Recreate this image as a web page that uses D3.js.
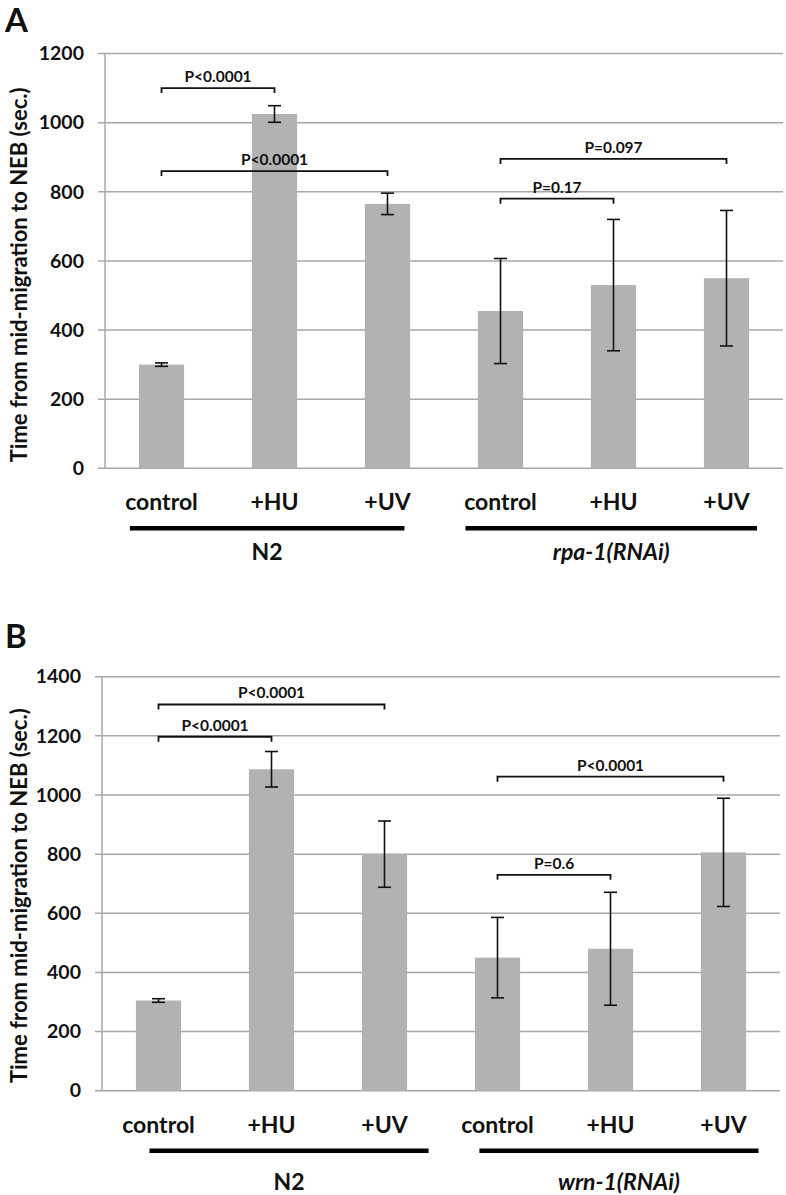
<!DOCTYPE html>
<html>
<head>
<meta charset="utf-8">
<script src="https://cdn.jsdelivr.net/npm/d3@7"></script>
<style>
  html, body { margin: 0; padding: 0; background: #fff; }
  svg { display: block; }
  text { font-family: Lato, "Open Sans", sans-serif; font-weight: bold; fill: #111; }
</style>
</head>
<body>
<svg id="chart" width="786" height="1195"></svg>
<script>
// ---------------- DATA ----------------
const categories = ["control", "+HU", "+UV", "control", "+HU", "+UV"];

const groupsA = ["N2", "rpa-1(RNAi)"];
const valuesA = [300, 1025, 765, 455, 530, 550];
const errorsA = [5, 24, 31, 152, 190, 196];
const ticksA = [0, 200, 400, 600, 800, 1000, 1200];
const bracketsA = [
  { from: 0, to: 1, y: 1100, label: "P<0.0001" },
  { from: 0, to: 2, y: 860, label: "P<0.0001" },
  { from: 3, to: 5, y: 895, label: "P=0.097" },
  { from: 3, to: 4, y: 780, label: "P=0.17" }
];

const groupsB = ["N2", "wrn-1(RNAi)"];
const valuesB = [305, 1087, 800, 450, 480, 806];
const errorsB = [6, 60, 112, 136, 191, 183];
const ticksB = [0, 200, 400, 600, 800, 1000, 1200, 1400];
const bracketsB = [
  { from: 0, to: 1, y: 1197, label: "P<0.0001" },
  { from: 0, to: 2, y: 1306, label: "P<0.0001" },
  { from: 3, to: 5, y: 1062, label: "P<0.0001" },
  { from: 3, to: 4, y: 730, label: "P=0.6" }
];

const yTitle = "Time from mid-migration to NEB (sec.)";

// ---------------- LAYOUT / STYLE ----------------
const svg = d3.select("#chart");
const barColor = "#b2b2b2";
const gridColor = "#a8a8a8";

function drawPanel(opt) {
  const g = svg.append("g");
  const x = d3.scaleBand().domain(d3.range(categories.length))
    .range([opt.left, opt.right]).paddingInner(0.6).paddingOuter(0.3);
  const y = d3.scaleLinear().domain([0, opt.ticks[opt.ticks.length - 1]])
    .range([opt.bottom, opt.top]);

  // gridlines
  g.append("g").selectAll("line").data(opt.ticks).join("line")
    .attr("x1", opt.left - 7).attr("x2", opt.right)
    .attr("y1", d => y(d)).attr("y2", d => y(d))
    .attr("stroke", gridColor).attr("stroke-width", 1.5);

  // y axis line
  g.append("line").attr("x1", opt.left).attr("x2", opt.left)
    .attr("y1", y(0)).attr("y2", y(opt.ticks[opt.ticks.length - 1]))
    .attr("stroke", gridColor).attr("stroke-width", 1.5);

  // tick labels via d3 axis
  const axis = d3.axisLeft(y).tickValues(opt.ticks).tickFormat(d3.format("d")).tickSize(0).tickPadding(0);
  const ax = g.append("g").attr("transform", `translate(${opt.left - 21},0)`).call(axis);
  ax.select(".domain").remove();
  ax.selectAll("text").attr("font-size", 19.5).attr("font-family", "Lato, sans-serif")
    .attr("font-weight", "bold").attr("fill", "#111");

  // bars
  g.append("g").selectAll("rect").data(opt.values).join("rect")
    .attr("x", (d, i) => x(i)).attr("width", x.bandwidth())
    .attr("y", d => y(d)).attr("height", d => y(0) - y(d))
    .attr("fill", barColor);

  // error bars
  const cx = i => x(i) + x.bandwidth() / 2;
  const eg = g.append("g").attr("stroke", "#111").attr("stroke-width", 1.6);
  opt.values.forEach((v, i) => {
    const e = opt.errors[i];
    eg.append("line").attr("x1", cx(i)).attr("x2", cx(i)).attr("y1", y(v - e)).attr("y2", y(v + e));
    eg.append("line").attr("x1", cx(i) - 6.5).attr("x2", cx(i) + 6.5).attr("y1", y(v - e)).attr("y2", y(v - e));
    eg.append("line").attr("x1", cx(i) - 6.5).attr("x2", cx(i) + 6.5).attr("y1", y(v + e)).attr("y2", y(v + e));
  });

  // significance brackets
  const bg = g.append("g");
  opt.brackets.forEach(b => {
    const x1 = cx(b.from), x2 = cx(b.to), yy = y(b.y);
    bg.append("path")
      .attr("d", `M${x1},${yy + 5}V${yy}H${x2}V${yy + 5}`)
      .attr("fill", "none").attr("stroke", "#111").attr("stroke-width", 1.8);
    bg.append("text").attr("x", (x1 + x2) / 2).attr("y", yy - 6)
      .attr("text-anchor", "middle").attr("font-size", 15.5).text(b.label);
  });

  // category labels
  g.append("g").selectAll("text").data(categories).join("text")
    .attr("x", (d, i) => cx(i)).attr("y", y(0) + 42)
    .attr("text-anchor", "middle").attr("font-size", 23).text(d => d);

  // group lines + labels
  const bw = x.step();
  opt.groups.forEach((name, k) => {
    const i0 = k * 3, i1 = k * 3 + 2;
    const gx1 = cx(i0) + opt.groupPad[k][0] * bw;
    const gx2 = cx(i1) + opt.groupPad[k][1] * bw;
    g.append("line").attr("x1", gx1).attr("x2", gx2)
      .attr("y1", y(0) + 60).attr("y2", y(0) + 60)
      .attr("stroke", "#000").attr("stroke-width", 4.5);
    g.append("text").attr("x", (gx1 + gx2) / 2).attr("y", y(0) + opt.groupLabelDy)
      .attr("text-anchor", "middle").attr("font-size", 23)
      .attr("font-style", k === 1 ? "italic" : "normal").text(name);
  });

  // y title
  g.append("text")
    .attr("transform", `translate(${opt.titleX},${(y(0) + y(opt.ticks[opt.ticks.length - 1])) / 2 + opt.titleDy}) rotate(-90)`)
    .attr("text-anchor", "middle").attr("font-size", 22).text(yTitle);

  // panel letter
  g.append("text").attr("x", opt.letterX).attr("y", opt.letterY)
    .attr("font-family", "'Liberation Sans', Arial, sans-serif")
    .attr("font-size", 33).attr("fill", "#000").text(opt.letter);
}

drawPanel({
  letter: "A", letterX: 5, letterY: 32,
  left: 105, right: 783, top: 53.5, bottom: 468.3,
  values: valuesA, errors: errorsA, ticks: ticksA, brackets: bracketsA,
  groups: groupsA, groupPad: [[-0.28, 0.15], [-0.31, 0.27]], groupLabelDy: 92,
  titleX: 27, titleDy: 14
});

drawPanel({
  letter: "B", letterX: 5, letterY: 648,
  left: 102, right: 780, top: 676.7, bottom: 1090.7,
  values: valuesB, errors: errorsB, ticks: ticksB, brackets: bracketsB,
  groups: groupsB, groupPad: [[-0.08, 0.39], [-0.16, 0.31]], groupLabelDy: 99,
  titleX: 27, titleDy: 12
});
</script>
</body>
</html>
